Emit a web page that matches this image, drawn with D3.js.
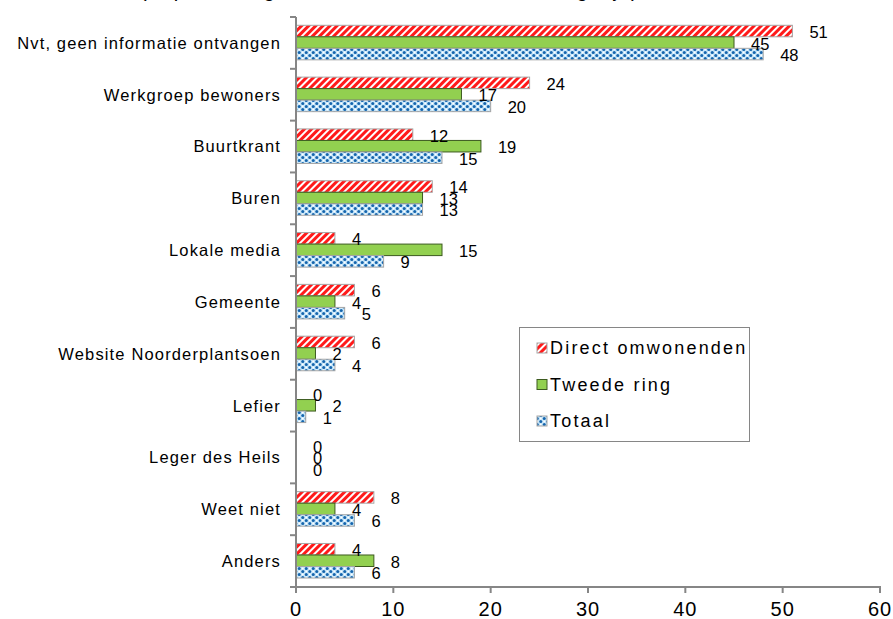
<!DOCTYPE html>
<html>
<head>
<meta charset="utf-8">
<script src="https://cdn.jsdelivr.net/npm/d3@7"></script>
<style>
  html, body { margin: 0; padding: 0; background: #fff; }
  svg { display: block; }
  text { font-family: "Liberation Sans", Arial, sans-serif; fill: #000; }
</style>
</head>
<body>
<svg id="chart" width="893" height="619"></svg>
<script>
const categories = [
  "Nvt, geen informatie ontvangen",
  "Werkgroep bewoners",
  "Buurtkrant",
  "Buren",
  "Lokale media",
  "Gemeente",
  "Website Noorderplantsoen",
  "Lefier",
  "Leger des Heils",
  "Weet niet",
  "Anders"
];
const seriesNames = ["Direct omwonenden", "Tweede ring", "Totaal"];
const directOmwonenden = [51, 24, 12, 14, 4, 6, 6, 0, 0, 8, 4];
const tweedeRing       = [45, 17, 19, 13, 15, 4, 2, 2, 0, 4, 8];
const totaal           = [48, 20, 15, 13, 9, 5, 4, 1, 0, 6, 6];
const xTicks = [0, 10, 20, 30, 40, 50, 60];
const titleText = "(in percentages, meerdere antwoorden mogelijk)";

const seriesValues = [directOmwonenden, tweedeRing, totaal];

const svg = d3.select("#chart");
const defs = svg.append("defs");

// Red diagonal stripes
const pRed = defs.append("pattern").attr("id", "pRed")
  .attr("patternUnits", "userSpaceOnUse").attr("width", 5).attr("height", 5)
  .attr("patternTransform", "rotate(45)");
pRed.append("rect").attr("width", 5).attr("height", 5).attr("fill", "#ffffff");
pRed.append("rect").attr("width", 3).attr("height", 5).attr("fill", "#ff1a1a");

// Blue dotted
const pBlue = defs.append("pattern").attr("id", "pBlue")
  .attr("patternUnits", "userSpaceOnUse").attr("width", 7).attr("height", 6);
pBlue.append("rect").attr("width", 7).attr("height", 6).attr("fill", "#c4e4f8");
pBlue.append("circle").attr("cx", 1.75).attr("cy", 1.5).attr("r", 1.5).attr("fill", "#1565ad");
pBlue.append("circle").attr("cx", 5.25).attr("cy", 4.5).attr("r", 1.5).attr("fill", "#1565ad");
pBlue.append("circle").attr("cx", 5.25).attr("cy", 1.5).attr("r", 0.9).attr("fill", "#ffffff");
pBlue.append("circle").attr("cx", 1.75).attr("cy", 4.5).attr("r", 0.9).attr("fill", "#ffffff");

const fills = ["url(#pRed)", "#92d050", "url(#pBlue)"];
const strokes = ["#a6a6a6", "#3c5a1f", "#a6a6a6"];

const x0 = 296, x1 = 880, yTop = 17, yBot = 587;
const x = d3.scaleLinear().domain([0, 60]).range([x0, x1]);
const y = d3.scaleBand().domain(categories).range([yTop, yBot]).padding(0);
const bw = y.bandwidth();
const barH = bw / 4.5;
const inner = d3.scaleBand().domain(d3.range(3)).range([0.72 * barH, 0.72 * barH + 3 * barH]).padding(0);

// Title (mostly clipped at top, as in the reference)
svg.append("text").attr("x", 140).attr("y", -3).attr("font-size", 20)
  .style("letter-spacing", "1.5px").text(titleText);

// Bars
const groups = svg.append("g");
seriesValues.forEach((vals, si) => {
  groups.selectAll(".bar" + si).data(categories).enter().append("rect")
    .attr("x", x(0))
    .attr("y", (d) => y(d) + inner(si))
    .attr("width", (d, i) => Math.max(0, x(vals[i]) - x(0)))
    .attr("height", inner.bandwidth())
    .attr("fill", fills[si])
    .attr("stroke", (d, i) => vals[i] > 0 ? strokes[si] : "none")
    .attr("stroke-width", 1);
});

// Value labels
seriesValues.forEach((vals, si) => {
  svg.append("g").selectAll("text").data(categories).enter().append("text")
    .attr("x", (d, i) => x(vals[i]) + 17)
    .attr("y", (d) => y(d) + inner(si) + inner.bandwidth() / 2 + 1)
    .attr("dy", "0.36em")
    .attr("font-size", 16.5)
    .text((d, i) => vals[i]);
});

// Y axis
const yAxis = svg.append("g");
yAxis.append("line").attr("x1", x0).attr("x2", x0).attr("y1", yTop).attr("y2", yBot)
  .attr("stroke", "#868686").attr("stroke-width", 2);
const bounds = categories.map(c => y(c)).concat([yBot]);
yAxis.selectAll(".yt").data(bounds).enter().append("line")
  .attr("x1", x0 - 6).attr("x2", x0).attr("y1", d => d).attr("y2", d => d)
  .attr("stroke", "#868686").attr("stroke-width", 2);
yAxis.selectAll(".yl").data(categories).enter().append("text")
  .attr("x", 281).attr("y", d => y(d) + bw / 2).attr("dy", "0.36em")
  .attr("text-anchor", "end").attr("font-size", 16.5)
  .style("letter-spacing", "1.15px")
  .text(d => d);

// X axis
const xAxis = svg.append("g");
xAxis.append("line").attr("x1", x0 - 1).attr("x2", x1 + 1).attr("y1", yBot).attr("y2", yBot)
  .attr("stroke", "#868686").attr("stroke-width", 2);
xAxis.selectAll(".xt").data(xTicks).enter().append("line")
  .attr("x1", d => x(d)).attr("x2", d => x(d)).attr("y1", yBot).attr("y2", yBot + 6)
  .attr("stroke", "#868686").attr("stroke-width", 2);
xAxis.selectAll(".xl").data(xTicks).enter().append("text")
  .attr("x", d => x(d)).attr("y", 616).attr("text-anchor", "middle")
  .attr("font-size", 20).style("letter-spacing", "1px")
  .text(d => d);

// Legend
const lg = svg.append("g");
lg.append("rect").attr("x", 519.5).attr("y", 327.5).attr("width", 230).attr("height", 114)
  .attr("fill", "#fff").attr("stroke", "#868686").attr("stroke-width", 1);
const ly = d3.scalePoint().domain(seriesNames).range([348, 421]);
seriesNames.forEach((n, i) => {
  lg.append("rect").attr("x", 537).attr("y", ly(n) - 5).attr("width", 10).attr("height", 10)
    .attr("fill", fills[i]).attr("stroke", strokes[i]).attr("stroke-width", 1);
  lg.append("text").attr("x", 550).attr("y", ly(n)).attr("dy", "0.36em")
    .attr("font-size", 18).style("letter-spacing", "2.2px").text(n);
});
</script>
</body>
</html>
